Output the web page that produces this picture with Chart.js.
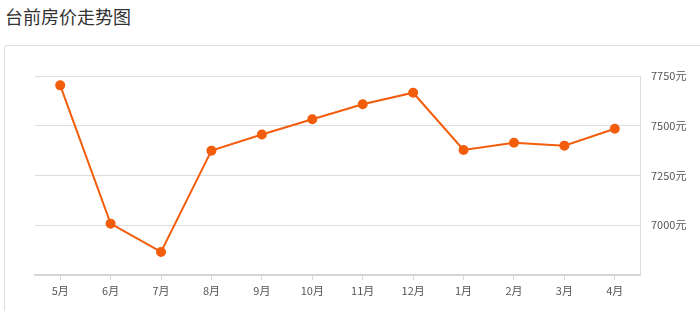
<!DOCTYPE html>
<html>
<head>
<meta charset="utf-8">
<script src="https://cdn.jsdelivr.net/npm/chart.js@4"></script>
<style>
  html, body { margin: 0; padding: 0; background: #fff; }
  body { width: 700px; height: 311px; overflow: hidden; position: relative;
         font-family: "Noto Sans CJK SC", "Noto Sans", sans-serif; }
  .title { position: absolute; left: 5px; top: 3px; font-size: 18px; color: #333; }
  .panel { position: absolute; left: 4px; top: 45px; width: 800px; height: 400px;
           border: 1px solid #ddd; border-radius: 3px; }
  #chart { position: absolute; left: 0; top: 0; }
</style>
</head>
<body>
<div class="title">台前房价走势图</div>
<div class="panel"></div>
<canvas id="chart" width="700" height="311"></canvas>
<script>
const months = ["5月", "6月", "7月", "8月", "9月", "10月", "11月", "12月", "1月", "2月", "3月", "4月"];
const prices = [7703, 7008, 6866, 7375, 7456, 7533, 7608, 7666, 7378, 7415, 7400, 7485];
const priceTicks = [7000, 7250, 7500, 7750];

const lineColor = "#f25d0c";

new Chart(document.getElementById("chart"), {
  type: "line",
  data: {
    labels: months,
    datasets: [
      {
        data: prices,
        borderColor: lineColor,
        backgroundColor: lineColor,
        borderWidth: 2,
        pointRadius: 4,
        pointHoverRadius: 4,
        tension: 0
      }
    ]
  },
  options: {
    responsive: false,
    animation: false,
    layout: { padding: { left: 35, right: 0, top: 76, bottom: 0 } },
    plugins: {
      legend: { display: false },
      tooltip: { enabled: false }
    },
    scales: {
      x: {
        offset: true,
        grid: {
          drawOnChartArea: false,
          drawTicks: true,
          tickLength: 5,
          color: "#d6d6d6"
        },
        border: { color: "#d6d6d6", width: 2 },
        ticks: {
          color: "#555",
          padding: 4,
          maxRotation: 0,
          font: { size: 11, family: "'Noto Sans CJK SC', sans-serif" }
        },
        afterFit(scale) { scale.height = 36; }
      },
      y: {
        position: "right",
        min: 6750,
        max: 7750,
        afterBuildTicks(scale) {
          scale.ticks = [6750].concat(priceTicks).map(v => ({ value: v }));
        },
        grid: {
          drawTicks: false,
          color: ctx => (ctx.tick && ctx.tick.value === 6750 ? "rgba(0,0,0,0)" : "#dddddd")
        },
        border: { color: "#dddddd", width: 1 },
        ticks: {
          color: "#555",
          padding: 11,
          font: { size: 11, family: "'Noto Sans CJK SC', sans-serif" },
          callback: value => (priceTicks.includes(value) ? value + "元" : "")
        },
        afterFit(scale) { scale.width = 60; }
      }
    }
  }
});
</script>
</body>
</html>
